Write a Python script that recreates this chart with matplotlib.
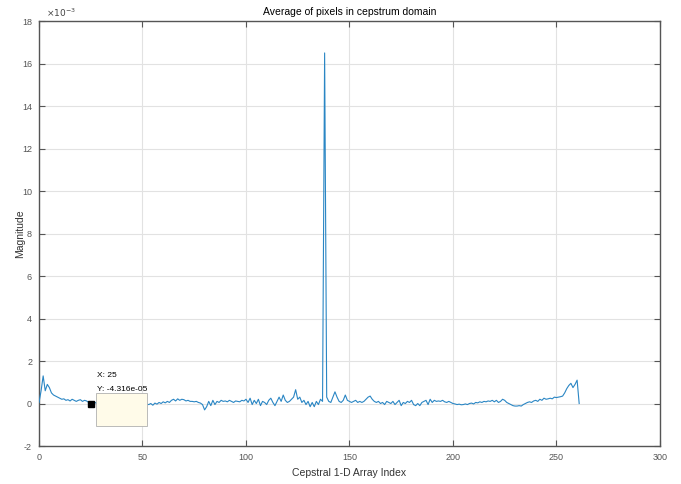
import matplotlib
matplotlib.use('Agg')
import matplotlib.pyplot as plt
import numpy as np
from matplotlib.ticker import FuncFormatter
from matplotlib.patches import Rectangle

plt.rcParams['font.family'] = ['Liberation Sans', 'DejaVu Sans']
plt.rcParams['axes.unicode_minus'] = False

# average cepstrum magnitude, units of 1e-3, index 0..261
mag = [0.05, 0.6, 1.3, 0.6, 0.9, 0.75, 0.5, 0.4, 0.35, 0.3,
       0.25, 0.2, 0.22, 0.15, 0.18, 0.12, 0.2, 0.15, 0.1, 0.15,
       0.18, 0.1, 0.15, 0.12, 0.05, -0.04316, 0.02, 0.05, 0.0, 0.04,
       0.02, 0.06, 0.0, 0.03, 0.05, 0.02, -0.02, 0.03, 0.05, 0.0,
       0.04, 0.02, 0.05, 0.0, -0.02, 0.03, 0.0, -0.03, 0.02, 0.0,
       -0.02, 0.02, -0.03, -0.05, 0.0, -0.08, 0.02, -0.03, 0.05, 0.0,
       0.08, 0.03, 0.1, 0.05, 0.15, 0.2, 0.12, 0.22, 0.15, 0.2,
       0.18, 0.12, 0.15, 0.1, 0.1, 0.08, 0.1, 0.05, 0.02, -0.05,
       -0.3, -0.15, 0.1, -0.1, 0.15, -0.05, 0.1, 0.05, 0.15, 0.1,
       0.12, 0.08, 0.15, 0.1, 0.05, 0.12, 0.1, 0.08, 0.15, 0.12,
       0.2, 0.05, 0.25, -0.05, 0.15, 0.0, 0.2, -0.1, 0.1, 0.05,
       -0.05, 0.15, 0.25, 0.05, -0.1, 0.1, 0.3, 0.1, 0.4, 0.15,
       0.05, 0.1, 0.2, 0.3, 0.65, 0.2, 0.3, 0.05, 0.15, -0.05,
       0.1, -0.15, 0.05, -0.15, 0.1, -0.05, 0.2, 0.1, 16.5, 0.3,
       0.1, 0.05, 0.3, 0.55, 0.3, 0.1, 0.05, 0.15, 0.4, 0.15,
       0.1, 0.05, 0.1, 0.15, 0.05, 0.1, 0.05, 0.1, 0.2, 0.3,
       0.35, 0.2, 0.1, 0.05, 0.1, 0.0, 0.05, -0.05, 0.1, 0.05,
       0.0, 0.1, -0.05, 0.05, 0.15, -0.1, 0.05, 0.0, 0.1, 0.05,
       0.15, -0.05, -0.1, 0.0, -0.1, 0.05, 0.1, 0.15, -0.05, 0.2,
       0.05, 0.15, 0.1, 0.12, 0.1, 0.15, 0.08, 0.05, 0.1, 0.05,
       0.0, -0.02, -0.05, -0.03, -0.06, -0.05, -0.02, -0.05, 0.0, 0.02,
       -0.02, 0.05, 0.03, 0.08, 0.05, 0.1, 0.08, 0.12, 0.1, 0.15,
       0.08, 0.15, 0.05, 0.1, 0.2, 0.15, 0.05, 0.0, -0.05, -0.1,
       -0.12, -0.12, -0.1, -0.12, -0.05, 0.0, 0.05, 0.08, 0.05, 0.12,
       0.15, 0.1, 0.2, 0.15, 0.25, 0.2, 0.22, 0.25, 0.22, 0.3,
       0.28, 0.3, 0.32, 0.35, 0.5, 0.7, 0.85, 0.95, 0.75, 0.9,
       1.1, 0.0]
y = np.array(mag) * 1e-3
x = np.arange(len(y))

tip_x = 25
tip_y = -4.316e-05

fig = plt.figure(figsize=(6.81, 4.84), dpi=100)
ax = fig.add_axes([0.0573, 0.0785, 0.9117, 0.878])

ax.plot(x, y, color='#2a86c4', lw=0.8, zorder=3)

ax.set_xlim(0, 300)
ax.set_ylim(-2e-3, 18e-3)
ax.set_xticks(np.arange(0, 301, 50))
ax.set_yticks(np.arange(-2, 19, 2) * 1e-3)
ax.yaxis.set_major_formatter(FuncFormatter(lambda v, p: '%g' % round(v * 1e3, 6)))
ax.text(0.012, 1.004, r'$\times10^{-3}$', transform=ax.transAxes, fontsize=6.5,
        color='#444444', va='bottom', ha='left')

ax.grid(True, color='#e2e2e2', lw=0.8, zorder=0)
ax.set_axisbelow(True)
ax.tick_params(direction='in', length=4, top=True, right=True,
               labelsize=6.5, colors='#555555', width=0.8, pad=5)
for s in ax.spines.values():
    s.set_color('#555555')
    s.set_linewidth(1.0)

ax.set_title('Average of pixels in cepstrum domain', fontsize=7.5, pad=4)
ax.set_xlabel('Cepstral 1-D Array Index', fontsize=7.5, color='#333333', labelpad=4)
ax.set_ylabel('Magnitude', fontsize=7.5, color='#333333')
ax.yaxis.set_label_coords(-0.022, 0.5)

# data tip
ax.add_patch(Rectangle((27.3, -1.05e-3), 25.0, 1.55e-3, facecolor='#fffbe9',
                       edgecolor='#b0b0b0', lw=0.6, zorder=5))
ax.plot([tip_x], [tip_y], marker='s', color='black', ms=4, zorder=6)
ax.text(28.0, 1.32e-3, 'X: 25', fontsize=6, zorder=7, va='center')
ax.text(28.0, 0.65e-3, 'Y: -4.316e-05', fontsize=6, zorder=7, va='center')

fig.savefig('out.png', dpi=100)
